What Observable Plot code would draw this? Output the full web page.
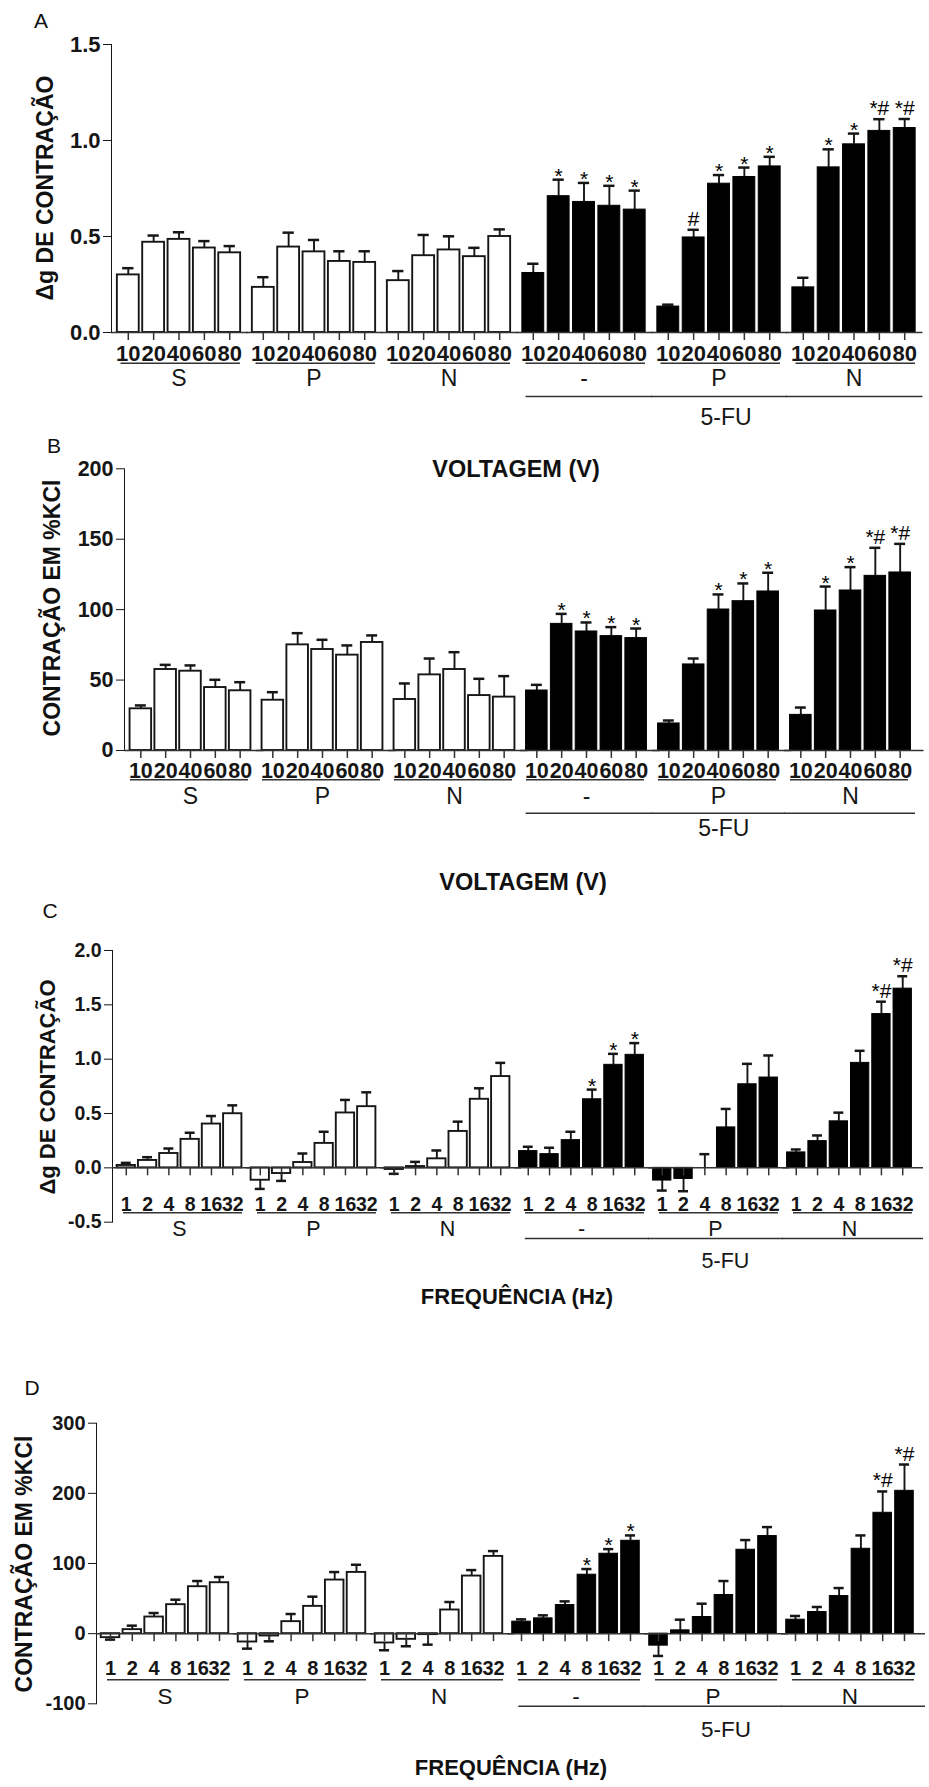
<!DOCTYPE html>
<html>
<head>
<meta charset="utf-8">
<script src="https://cdn.jsdelivr.net/npm/d3@7"></script>
<script src="https://cdn.jsdelivr.net/npm/@observablehq/plot@0.6"></script>
<style>
  html, body { margin: 0; padding: 0; background: #fff; }
  #page { position: relative; width: 929px; height: 1787px; font-family: "Liberation Sans", Arial, sans-serif; color: #111; overflow: hidden; }
  .panel { position: absolute; left: 0; }
  .txt { position: absolute; transform: translate(-50%, -50%); line-height: 1; white-space: nowrap; }
  .letter { font-size: 21px; font-weight: normal; }
  .xtitle { font-weight: bold; }
  .ytitle { font-weight: bold; transform: translate(-50%, -50%) rotate(-90deg); }
</style>
</head>
<body>
<div id="page"></div>
<script>
// ---------- categories ----------
const groupKeys   = ["S", "P", "N", "FU-", "FU-P", "FU-N"];
const groupLabels = ["S", "P", "N", "-", "P", "N"];
const voltLevels  = ["10", "20", "40", "60", "80"];
const freqLevels  = ["1", "2", "4", "8", "16", "32"];

// ---------- panel A: Δg de contração vs voltagem ----------
const aMean = [
  [0.30, 0.47, 0.485, 0.44, 0.415],
  [0.235, 0.445, 0.42, 0.37, 0.365],
  [0.27, 0.40, 0.43, 0.395, 0.50],
  [0.31, 0.71, 0.68, 0.66, 0.64],
  [0.135, 0.495, 0.775, 0.81, 0.865],
  [0.235, 0.86, 0.98, 1.05, 1.065]
];
const aSem = [
  [0.035, 0.035, 0.037, 0.036, 0.035],
  [0.053, 0.075, 0.062, 0.053, 0.058],
  [0.050, 0.108, 0.071, 0.046, 0.037],
  [0.048, 0.086, 0.099, 0.104, 0.099],
  [0.010, 0.040, 0.045, 0.049, 0.050],
  [0.050, 0.094, 0.056, 0.061, 0.047]
];
const aSig = [[], [], [], ["", "*", "*", "*", "*"], ["", "#", "*", "*", "*"], ["", "*", "*", "*#", "*#"]];

// ---------- panel B: contração em %KCl vs voltagem ----------
const bMean = [
  [29.6, 57.5, 56.3, 44.7, 42.4],
  [35.7, 75.0, 71.7, 67.7, 76.7],
  [36.2, 53.7, 57.5, 39.0, 37.9],
  [42.6, 89.9, 84.5, 81.2, 79.8],
  [19.2, 61.1, 100.1, 106.0, 112.9],
  [25.3, 99.4, 113.6, 124.0, 126.4]
];
const bSem = [
  [2.4, 3.3, 4.1, 5.5, 6.1],
  [5.7, 8.3, 6.9, 6.9, 5.0],
  [11.4, 11.6, 12.3, 11.9, 14.9],
  [4.0, 7.1, 6.4, 6.4, 6.8],
  [2.1, 4.2, 10.7, 12.6, 13.3],
  [5.2, 17.0, 16.6, 19.9, 20.3]
];
const bSig = [[], [], [], ["", "*", "*", "*", "*"], ["", "", "*", "*", "*"], ["", "*", "*", "*#", "*#"]];

// ---------- panel C: Δg de contração vs frequência ----------
const cMean = [
  [0.022, 0.068, 0.132, 0.262, 0.403, 0.498],
  [-0.114, -0.052, 0.049, 0.225, 0.505, 0.563],
  [-0.015, 0.012, 0.083, 0.335, 0.631, 0.84],
  [0.154, 0.126, 0.255, 0.631, 0.948, 1.04],
  [-0.117, -0.102, 0.0, 0.372, 0.769, 0.831],
  [0.142, 0.246, 0.428, 0.966, 1.415, 1.649]
];
const cSem = [
  [0.024, 0.030, 0.046, 0.061, 0.074, 0.077],
  [0.080, 0.068, 0.083, 0.107, 0.120, 0.132],
  [0.040, 0.043, 0.077, 0.090, 0.101, 0.126],
  [0.040, 0.059, 0.077, 0.089, 0.101, 0.108],
  [0.092, 0.113, 0.126, 0.170, 0.188, 0.203],
  [0.027, 0.052, 0.080, 0.111, 0.114, 0.114]
];
const cSig = [[], [], [], ["", "", "", "*", "*", "*"], [], ["", "", "", "", "*#", "*#"]];

// ---------- panel D: contração em %KCl vs frequência ----------
const dMean = [
  [-5.7, 5.7, 23.7, 41.3, 66.9, 72.6],
  [-11.9, -3.3, 17.1, 38.9, 76.4, 87.3],
  [-13.3, -8.1, -1.4, 33.7, 82.1, 110.1],
  [17.1, 21.8, 40.8, 84.0, 113.9, 132.4],
  [-17.1, 4.7, 23.7, 55.1, 119.6, 139.1],
  [19.9, 30.8, 53.6, 121.0, 172.3, 203.6]
];
const dSem = [
  [2.8, 5.7, 5.7, 7.1, 8.1, 8.1],
  [9.5, 7.6, 10.9, 13.8, 11.4, 10.9],
  [10.4, 9.9, 14.3, 11.4, 8.5, 7.6],
  [3.3, 4.3, 5.2, 8.1, 6.6, 7.6],
  [14.7, 15.2, 19.0, 19.9, 13.8, 12.8],
  [5.3, 7.2, 11.4, 19.0, 30.4, 37.5]
];
const dSig = [[], [], [], ["", "", "", "*", "*", "*"], [], ["", "", "", "", "*#", "*#"]];

// ---------- tick values ----------
const aTicks = [0, 0.5, 1.0, 1.5];
const bTicks = [0, 50, 100, 150, 200];
const cTicks = [-0.5, 0, 0.5, 1.0, 1.5, 2.0];
const dTicks = [-100, 0, 100, 200, 300];

function buildTable(levels, means, sems, sigs) {
  const rows = [];
  groupKeys.forEach((g, gi) => levels.forEach((lv, li) => {
    const v = means[gi][li], e = sems[gi][li];
    rows.push({
      group: g, level: lv, value: v,
      end: v < 0 ? v - e : v + e,
      fu: gi >= 3,
      sig: (sigs[gi] && sigs[gi][li]) || ""
    });
  }));
  return rows;
}

const FONT = '"Liberation Sans", Arial, sans-serif';
const INK = "#161616";
const AXIS = "#333";

function drawPanel(cfg) {
  const table = buildTable(cfg.levels, cfg.mean, cfg.sem, cfg.sig);
  const ctrl = table.filter(d => !d.fu);
  const fu = table.filter(d => d.fu);
  const stars = table.filter(d => d.sig === "*");
  const others = table.filter(d => d.sig && d.sig !== "*");
  const zero = () => 0;
  const line = {stroke: AXIS, strokeWidth: 1.5};
  return Plot.plot({
    width: 929,
    height: cfg.marginTop + cfg.frameH + cfg.marginBottom,
    marginTop: cfg.marginTop,
    marginBottom: cfg.marginBottom,
    marginLeft: cfg.marginLeft,
    marginRight: cfg.marginRight,
    style: {fontFamily: FONT, fontSize: cfg.font + "px", fontWeight: "bold", color: INK, background: "transparent", overflow: "visible"},
    fx: {domain: groupKeys, paddingInner: 0, paddingOuter: 0, axis: null, label: null},
    x: {domain: cfg.levels, paddingInner: cfg.pi, paddingOuter: cfg.po, round: false, axis: null, label: null},
    y: {domain: cfg.domain, ticks: cfg.ticks, tickFormat: cfg.fmt, tickSize: 8, tickPadding: 3, line: true, label: null, nice: false},
    marks: [
      // error bars
      Plot.ruleX(table, {fx: "group", x: "level", y1: "value", y2: "end", stroke: INK, strokeWidth: 1.9}),
      Plot.tickY(table, {fx: "group", x: "level", y: "end", stroke: INK, strokeWidth: 2.5, insetLeft: cfg.capInset, insetRight: cfg.capInset}),
      // bars
      Plot.barY(ctrl, {fx: "group", x: "level", y1: zero, y2: "value", fill: "white", stroke: INK, strokeWidth: 1.9}),
      Plot.barY(fu, {fx: "group", x: "level", y1: zero, y2: "value", fill: "black", stroke: "black", strokeWidth: 1}),
      // baseline + ticks
      Plot.ruleY([0], {...line, insetRight: cfg.baseExt}),
      Plot.ruleX(table, {fx: "group", x: "level", y1: zero, y2: zero, insetBottom: -8, ...line}),
      // tick labels
      Plot.text(table, {fx: "group", x: "level", y: zero, text: "level", dy: cfg.tickDy, lineAnchor: "middle", fontWeight: "bold", fontSize: cfg.font}),
      // underlines under tick labels
      Plot.ruleY(groupKeys, {fx: d => d, y: zero, dy: cfg.ulDy, insetLeft: cfg.ulInset[0], insetRight: cfg.ulInset[1], ...line}),
      // group labels
      Plot.text(groupKeys, {fx: d => d, y: zero, text: (d, i) => groupLabels[i], dy: cfg.grpDy, lineAnchor: "middle", fontWeight: "normal", fontSize: cfg.groupFont}),
      // 5-FU bracket
      Plot.ruleY(["FU-"], {fx: d => d, y: zero, dy: cfg.fuDy, insetLeft: cfg.fuInset[0], insetRight: -1, ...line}),
      Plot.ruleY(["FU-P"], {fx: d => d, y: zero, dy: cfg.fuDy, insetRight: -1, ...line}),
      Plot.ruleY(["FU-N"], {fx: d => d, y: zero, dy: cfg.fuDy, insetRight: cfg.fuInset[1], ...line}),
      Plot.text(["FU-P"], {fx: d => d, y: zero, text: () => "5-FU", dy: cfg.fuLabelDy, dx: cfg.fuLabelDx, lineAnchor: "middle", fontWeight: "normal", fontSize: cfg.groupFont}),
      // significance marks
      Plot.text(stars, {fx: "group", x: "level", y: "end", text: "sig", lineAnchor: "bottom", dy: 3, fontWeight: "normal", fontSize: 21, fill: "#000"}),
      Plot.text(others, {fx: "group", x: "level", y: "end", text: "sig", lineAnchor: "bottom", dy: -4, fontWeight: "normal", fontSize: 21, fill: "#000"})
    ]
  });
}

const fmt1 = d => d.toFixed(1);
const fmt0 = d => String(d);

const panels = [
  {top: 30, levels: voltLevels, mean: aMean, sem: aSem, sig: aSig, domain: [0, 1.5], ticks: aTicks, fmt: fmt1,
   marginTop: 14, frameH: 288, marginBottom: 105, marginLeft: 108, marginRight: 5.4, pi: 0.137, po: 0.231,
   font: 22, groupFont: 23, tickDy: 21.3, ulDy: 30.7, ulInset: [9.5, 6], grpDy: 46.3, fuDy: 64, fuInset: [9.5, -1.4],
   fuLabelDy: 84.7, fuLabelDx: 7, baseExt: -1.4, capInset: 5.3},
  {top: 440, levels: voltLevels, mean: bMean, sem: bSem, sig: bSig, domain: [0, 200], ticks: bTicks, fmt: fmt0,
   marginTop: 28.3, frameH: 281.7, marginBottom: 95, marginLeft: 121.7, marginRight: 10.2, pi: 0.132, po: 0.224,
   font: 21.5, groupFont: 23, tickDy: 20.7, ulDy: 29.3, ulInset: [6, 8], grpDy: 45.7, fuDy: 62.7, fuInset: [5.6, 1],
   fuLabelDy: 78, fuLabelDx: 5.3, baseExt: -7.5, capInset: 5.3},
  {top: 930, levels: freqLevels, mean: cMean, sem: cSem, sig: cSig, domain: [-0.5, 2.0], ticks: cTicks, fmt: fmt1,
   marginTop: 20, frameH: 271.7, marginBottom: 55, marginLeft: 112.2, marginRight: 12.7, pi: 0.14, po: 0.216,
   font: 19.5, groupFont: 21.5, tickDy: 36.7, ulDy: 45, ulInset: [11, 4], grpDy: 61.7, fuDy: 70.7, fuInset: [10.8, -7],
   fuLabelDy: 93.3, fuLabelDx: 10, baseExt: -7, capInset: 4.2},
  {top: 1400, levels: freqLevels, mean: dMean, sem: dSem, sig: dSig, domain: [-100, 300], ticks: dTicks, fmt: fmt0,
   marginTop: 22.7, frameH: 280.6, marginBottom: 45, marginLeft: 96, marginRight: 11, pi: 0.15, po: 0.218,
   font: 20, groupFont: 22.5, tickDy: 34.7, ulDy: 46, ulInset: [11, 4], grpDy: 63.3, fuDy: 72.7, fuInset: [11.3, -7],
   fuLabelDy: 95.7, fuLabelDx: 13, baseExt: -7, capInset: 4.2}
];

const page = document.getElementById("page");
for (const cfg of panels) {
  const div = document.createElement("div");
  div.className = "panel";
  div.style.top = cfg.top + "px";
  div.appendChild(drawPanel(cfg));
  page.appendChild(div);
}

// ---------- texts around the panels ----------
const texts = [
  {t: "A", cls: "letter", x: 41, y: 20},
  {t: "B", cls: "letter", x: 54, y: 445},
  {t: "C", cls: "letter", x: 50, y: 910},
  {t: "D", cls: "letter", x: 32, y: 1387},
  {t: "Δg DE CONTRAÇÃO", cls: "ytitle", x: 45, y: 188, size: 23},
  {t: "CONTRAÇÃO EM %KCl", cls: "ytitle", x: 52, y: 608, size: 23},
  {t: "Δg DE CONTRAÇÃO", cls: "ytitle", x: 48, y: 1087, size: 22},
  {t: "CONTRAÇÃO EM %KCl", cls: "ytitle", x: 24, y: 1564, size: 23},
  {t: "VOLTAGEM (V)", cls: "xtitle", x: 516, y: 470, size: 23.5},
  {t: "VOLTAGEM (V)", cls: "xtitle", x: 523, y: 883, size: 23.5},
  {t: "FREQUÊNCIA (Hz)", cls: "xtitle", x: 517, y: 1297, size: 22},
  {t: "FREQUÊNCIA (Hz)", cls: "xtitle", x: 511, y: 1768, size: 22}
];
for (const d of texts) {
  const el = document.createElement("div");
  el.className = "txt " + d.cls;
  el.textContent = d.t;
  el.style.left = d.x + "px";
  el.style.top = d.y + "px";
  if (d.size) el.style.fontSize = d.size + "px";
  page.appendChild(el);
}
</script>
</body>
</html>
